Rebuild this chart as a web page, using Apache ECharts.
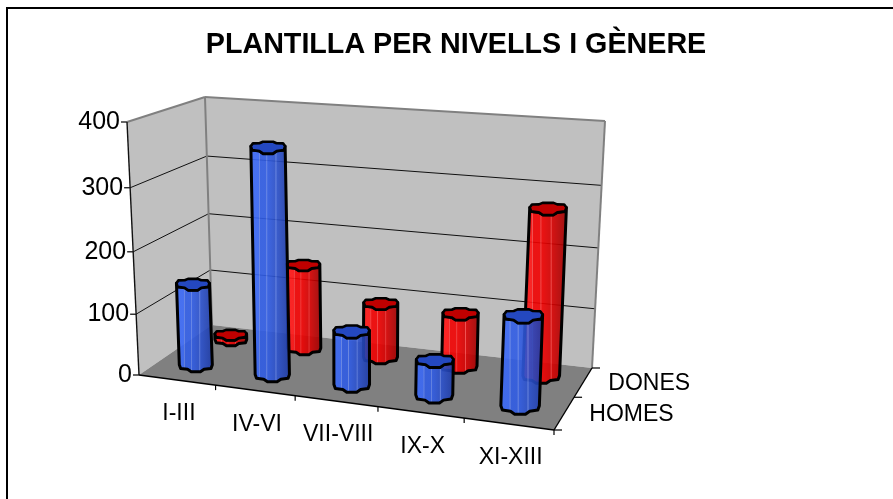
<!DOCTYPE html>
<html>
<head>
<meta charset="utf-8">
<style>
  html, body { margin: 0; padding: 0; background: #fff; }
  #chart { width: 893px; height: 499px; }
</style>
</head>
<body>
<div id="chart"></div>
<script src="https://cdn.jsdelivr.net/npm/echarts@6/dist/echarts.min.js"></script>
<script>
  let categories = ['I-III', 'IV-VI', 'VII-VIII', 'IX-X', 'XI-XIII'];
  let depthLabels = ['HOMES', 'DONES'];
  let homes = [136, 363, 88, 57, 142];
  let dones = [10, 145, 93, 90, 272];
  let yTicks = [0, 100, 200, 300, 400];

  const FONT = '"Liberation Sans", Arial, sans-serif';
  // floor corners: front-left, front-right, back-right, back-left
  const floorQuad = [[139, 375], [554, 430], [592, 368], [212, 325]];
  // top of the walls where they can be seen: [u, d, x, y]
  const topCorners = [[0, 0, 127, 122], [0, 1, 205, 97], [1, 1, 605, 121]];
  // outline of a bar end in screen units, it is not round in the original. left corner -> back -> right corner -> front
  const ringBack = [[-1, 0.25], [-0.88, 0.7], [-0.5, 0.72], [-0.3, 0.95], [0.3, 0.95], [0.5, 0.72], [0.88, 0.7], [1, 0.25]];
  const ringFront = [[-1, 0.25], [-0.92, -0.35], [-0.5, -0.5], [-0.28, -0.9], [0.28, -0.9], [0.5, -0.5], [0.92, -0.35], [1, 0.25]];

  // floor homography, unit square to quad
  function floorMatrix(q) {
    let dx1 = q[1][0] - q[2][0], dx2 = q[3][0] - q[2][0], sx = q[0][0] - q[1][0] + q[2][0] - q[3][0];
    let dy1 = q[1][1] - q[2][1], dy2 = q[3][1] - q[2][1], sy = q[0][1] - q[1][1] + q[2][1] - q[3][1];
    let det = dx1 * dy2 - dx2 * dy1;
    let g = (sx * dy2 - dx2 * sy) / det, h = (dx1 * sy - sx * dy1) / det;
    return {
      a: q[1][0] - q[0][0] + g * q[1][0], b: q[3][0] - q[0][0] + h * q[3][0], c: q[0][0],
      d: q[1][1] - q[0][1] + g * q[1][1], e: q[3][1] - q[0][1] + h * q[3][1], f: q[0][1],
      g: g, h: h
    };
  }
  const M = floorMatrix(floorQuad);

  function rawPoint(u, d, h, V) {
    let w = M.g * u + M.h * d + 1 + h * V.C;
    return [(M.a * u + M.b * d + M.c + h * V.A) / w, (M.d * u + M.e * d + M.f + h * V.B) / w];
  }

  // vertical column of the projection, fitted to the wall tops
  function fitVertical() {
    let xs = [], ys = [], kx = [], ky = [];
    topCorners.forEach((t) => {
      let X = M.a * t[0] + M.b * t[1] + M.c, Y = M.d * t[0] + M.e * t[1] + M.f, W = M.g * t[0] + M.h * t[1] + 1;
      xs.push(t[2]); ys.push(t[3]);
      kx.push(t[2] * W - X); ky.push(t[3] * W - Y);
    });
    let mean = (arr) => arr.reduce((s, v) => s + v, 0) / arr.length;
    let mx = mean(xs), my = mean(ys), mkx = mean(kx), mky = mean(ky);
    let num = 0, den = 0;
    xs.forEach((v, i) => {
      num += (v - mx) * (kx[i] - mkx) + (ys[i] - my) * (ky[i] - mky);
      den += (v - mx) * (v - mx) + (ys[i] - my) * (ys[i] - my);
    });
    let C = -num / den;
    return { A: mkx + mx * C, B: mky + my * C, C: C };
  }
  const V = fitVertical();
  // what the fit misses at the three corners, spread over the height
  const R = topCorners.map((t) => {
    let p = rawPoint(t[0], t[1], 1, V);
    return [t[2] - p[0], t[3] - p[1]];
  });

  // category ticks on the front edge are spaced less unevenly than the floor quad says
  function warp(u) {
    let s = 0.905 * u / (1 - 0.095 * u);
    return s / (1 + M.g - M.g * s);
  }

  // u along categories, d into the depth, h share of the value axis
  function project(u, d, h) {
    let uu = warp(u);
    let p = rawPoint(uu, d, h, V);
    let ex = R[0][0] + d * (R[1][0] - R[0][0]) + uu * (R[2][0] - R[1][0]);
    let ey = R[0][1] + d * (R[1][1] - R[0][1]) + uu * (R[2][1] - R[1][1]);
    return [p[0] + ex * h, p[1] + ey * h];
  }

  function toShare(api, params, cat, val) {
    let p = api.coord([cat, val]);
    let r = params.coordSys;
    return [(p[0] - r.x) / r.width, (r.y + r.height - p[1]) / r.height];
  }

  function poly(points, fill, stroke, width) {
    return {
      type: 'polygon',
      shape: { points: points },
      style: { fill: fill, stroke: stroke || null, lineWidth: width || 0, lineJoin: 'round' }
    };
  }
  function line(a, b, color, width) {
    return {
      type: 'line',
      shape: { x1: a[0], y1: a[1], x2: b[0], y2: b[1] },
      style: { stroke: color, lineWidth: width }
    };
  }
  function label(text, x, y, align, size) {
    return {
      type: 'text',
      style: { text: text, x: x, y: y, align: align, verticalAlign: 'middle', font: size + 'px ' + FONT, fill: '#000' }
    };
  }

  function renderFrame(params, api) {
    let kids = [];
    let fl = project(0, 0, 0), fr = project(1, 0, 0), bl = project(0, 1, 0), br = project(1, 1, 0);
    let tl = project(0, 0, 1), tbl = project(0, 1, 1), tbr = project(1, 1, 1);
    kids.push(poly([fl, bl, tbl, tl], '#C0C0C0'));
    kids.push(poly([bl, br, tbr, tbl], '#C0C0C0'));
    kids.push(poly([fl, fr, br, bl], '#808080'));
    yTicks.forEach((tick) => {
      let h = toShare(api, params, 0, tick)[1];
      let a = project(0, 0, h), b = project(0, 1, h), c = project(1, 1, h);
      if (tick > 0 && tick < yTicks[yTicks.length - 1]) {
        kids.push(line(a, b, '#111', 1));
        kids.push(line(b, c, '#111', 1));
      }
      kids.push(line([a[0] - 6, a[1]], a, '#000', 1.2));
      kids.push(label(String(tick), a[0] - 7, a[1], 'right', 25));
    });
    kids.push(line(tl, tbl, '#808080', 2));
    kids.push(line(tbl, tbr, '#808080', 2));
    kids.push(line(tbr, br, '#808080', 2));
    kids.push(line(tbl, bl, '#808080', 2));
    kids.push(line(tl, fl, '#111', 1.4));
    kids.push(line(fl, fr, '#000', 1.4));
    kids.push(line(fr, br, '#000', 1.4));
    categories.forEach((name, i) => {
      let u = (i + 1) / categories.length;
      let t = project(u, 0, 0);
      kids.push(line(t, [t[0], t[1] + 5], '#000', 1.2));
      let m = toShare(api, params, i, 0)[0];
      let c = project(m, 0, 0);
      kids.push(label(name, c[0] + 2, c[1] + 34, 'center', 23));
    });
    depthLabels.forEach((name, i) => {
      let a = project(1, (i + 1) / depthLabels.length, 0);
      kids.push(line(a, [a[0] + 8, a[1]], '#000', 1.2));
      let c = project(1, (i + 0.5) / depthLabels.length, 0);
      kids.push(label(name, c[0] + 25, c[1] + 1, 'left', 23));
    });
    let z = project(1, 0, 0);
    kids.push(line(z, [z[0] + 8, z[1]], '#000', 1.2));
    return { type: 'group', children: kids };
  }

  // left to right shading with the thin pale streaks the original has
  function sideFill(c) {
    return {
      type: 'linear', x: 0, y: 0, x2: 1, y2: 0,
      colorStops: [
        { offset: 0, color: c[0] },
        { offset: 0.22, color: c[0] },
        { offset: 0.24, color: c[4] },
        { offset: 0.26, color: c[1] },
        { offset: 0.4, color: c[1] },
        { offset: 0.42, color: c[4] },
        { offset: 0.44, color: c[1] },
        { offset: 0.62, color: c[2] },
        { offset: 0.64, color: c[4] },
        { offset: 0.66, color: c[2] },
        { offset: 1, color: c[3] }
      ]
    };
  }

  function barRenderer(depth, colors, topColor) {
    return function (params, api) {
      let share = toShare(api, params, api.value(0), api.value(1));
      let ru = 0.044, rd = 0.115;
      let base = project(share[0], depth, 0), cap = project(share[0], depth, share[1]);
      let rx = (project(share[0] + ru, depth, 0)[0] - project(share[0] - ru, depth, 0)[0]) / 2;
      let ry = (project(share[0], depth - rd, 0)[1] - project(share[0], depth + rd, 0)[1]) / 2;
      let at = (c, p) => [c[0] + rx * p[0], c[1] - ry * p[1]];
      let capRing = ringBack.concat(ringFront.slice().reverse()).map((p) => at(cap, p));
      let side = ringFront.map((p) => at(base, p)).concat(ringFront.slice().reverse().map((p) => at(cap, p)));
      return {
        type: 'group',
        children: [
          poly(side, sideFill(colors), '#000', 3),
          poly(capRing, topColor, '#000', 2.6)
        ]
      };
    };
  }

  function barSeries(values, depth, colors, topColor) {
    return {
      type: 'custom',
      silent: true,
      animation: false,
      encode: { x: 0, y: 1 },
      data: values.map((v, i) => [i, v]),
      renderItem: barRenderer(depth, colors, topColor)
    };
  }

  let blues = ['rgba(58,104,245,0.9)', 'rgba(48,92,228,0.9)', 'rgba(44,82,205,0.9)', 'rgba(28,56,160,0.9)', 'rgba(110,140,235,0.9)'];
  let reds = ['rgba(255,20,20,0.9)', 'rgba(240,0,0,0.9)', 'rgba(215,0,0,0.9)', 'rgba(150,0,0,0.9)', 'rgba(245,70,70,0.9)'];

  let chart = echarts.init(document.getElementById('chart'), null, { renderer: 'canvas' });
  chart.setOption({
    animation: false,
    backgroundColor: '#fff',
    title: {
      text: 'PLANTILLA PER NIVELLS I GÈNERE',
      left: 451,
      top: 26,
      textAlign: 'center',
      textStyle: { fontFamily: FONT, fontSize: 28.7, fontWeight: 'bold', color: '#000' }
    },
    grid: { left: 139, width: 415, top: 122, height: 253 },
    xAxis: { type: 'category', data: categories, show: false },
    yAxis: { type: 'value', min: 0, max: 400, interval: 100, show: false },
    graphic: [
      { type: 'line', shape: { x1: 6, y1: 8, x2: 893, y2: 8 }, style: { stroke: '#000', lineWidth: 2 } },
      { type: 'line', shape: { x1: 7, y1: 8, x2: 7, y2: 499 }, style: { stroke: '#000', lineWidth: 2 } }
    ],
    series: [
      { type: 'custom', silent: true, encode: { x: 0, y: 1 }, data: [[0, 0]], renderItem: renderFrame },
      barSeries(dones, 0.75, reds, '#C00000'),
      barSeries(homes, 0.25, blues, '#2448C0')
    ]
  });
</script>
</body>
</html>
